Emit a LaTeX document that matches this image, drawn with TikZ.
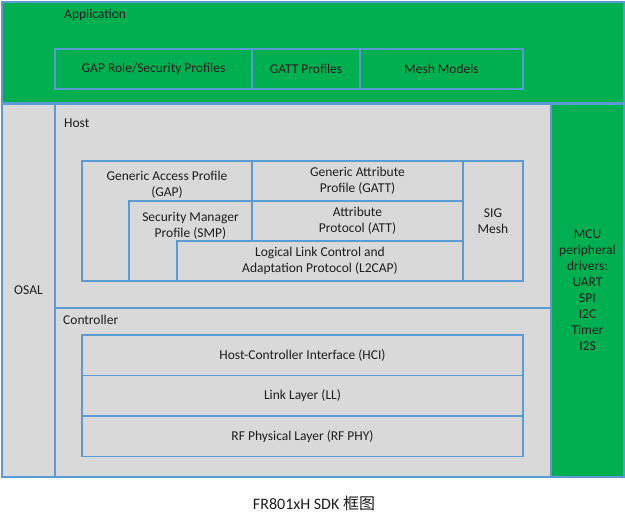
\documentclass[tikz,border=0pt]{standalone}
\usepackage{fontspec}
\setmainfont{Carlito}
\newfontfamily\cjk{Noto Sans CJK SC}
\usetikzlibrary{positioning}
\definecolor{edgeblue}{HTML}{5B9BD5}
\definecolor{appgreen}{HTML}{00B050}
\definecolor{layergray}{HTML}{D9D9D9}
\definecolor{inktext}{HTML}{1E1E1E}

\begin{document}
\begin{tikzpicture}[
      x=1pt, y=-1pt, font=\fontsize{13.5}{16}\selectfont, text=inktext,
      layer/.style={draw=edgeblue, line width=1.5pt, fill=layergray, inner sep=0pt,
        outer sep=0pt, align=center, anchor=north west},
      greenlayer/.style={layer, fill=appgreen},
      title/.style={anchor=west, inner sep=0pt}
      ]

      % Fond blanc, taille de l'image.
      \path[use as bounding box, fill=white] (0,0) rectangle (625,520);

      \node[greenlayer, minimum width=622pt, minimum height=101pt,
        label={[title, xshift=62pt, yshift=-13pt]north west:Application}] (app) at (2,2) {};
      \node[greenlayer, minimum width=197pt, minimum height=40pt] (gaprole) at (55,49) {GAP Role/Security Profiles};
      \node[greenlayer, minimum width=108pt, minimum height=40pt, right=0pt of gaprole] (gattprof) {GATT Profiles};
      \node[greenlayer, minimum width=163pt, minimum height=40pt, right=0pt of gattprof] (meshmod) {Mesh Models};

      \node[layer, minimum width=53pt, minimum height=373pt] (osal) at (2,104) {OSAL};
      \node[greenlayer, minimum width=73pt, minimum height=373pt] (mcu) at (551,104)
        {MCU\\peripheral\\drivers:\\UART\\SPI\\I2C\\Timer\\I2S};

      % Host
      \node[layer, minimum width=496pt, minimum height=204pt,
        label={[title, xshift=9pt, yshift=-19pt]north west:Host}] (host) at (55,104) {};
      \node[layer, minimum width=170pt, minimum height=120pt,
        label={[anchor=center, align=center, yshift=-24pt]north:Generic Access Profile\\(GAP)}] (gap) at (82,161) {};
      \node[layer, minimum width=123pt, minimum height=80pt,
        label={[anchor=center, align=center, yshift=-25pt]north:Security Manager\\Profile (SMP)}] (smp) at (129,201) {};
      \node[layer, minimum width=211pt, minimum height=40pt] (gatt) at (252,161) {Generic Attribute\\Profile (GATT)};
      \node[layer, minimum width=211pt, minimum height=40pt, below=0pt of gatt] (att) {Attribute\\Protocol (ATT)};
      \node[layer, minimum width=286pt, minimum height=40pt, anchor=north east] (l2cap) at (att.south east)
        {Logical Link Control and\\Adaptation Protocol (L2CAP)};
      \node[layer, minimum width=60pt, minimum height=120pt] (sigmesh) at (gatt.north east) {SIG\\Mesh};

      % Controller
      \node[layer, minimum width=496pt, minimum height=169pt,
        label={[title, xshift=8pt, yshift=-12pt]north west:Controller}] (ctrl) at (55,308) {};
      \node[layer, minimum width=441pt, minimum height=40.5pt] (hci) at (82,335) {Host-Controller Interface (HCI)};
      \node[layer, minimum width=441pt, minimum height=40.5pt, below=0pt of hci] (ll) {Link Layer (LL)};
      \node[layer, minimum width=441pt, minimum height=40.5pt, below=0pt of ll] (rfphy) {RF Physical Layer (RF PHY)};

      \node[font=\fontsize{16}{19}\selectfont] (caption) at (314,503) {FR801xH SDK {\cjk 框图}};
    \end{tikzpicture}
\end{document}
